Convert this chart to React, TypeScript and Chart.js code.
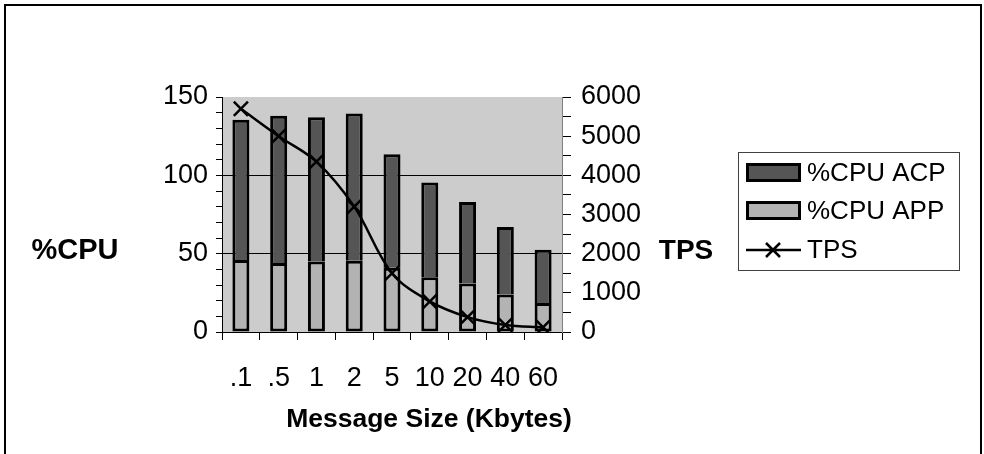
import React, { useEffect, useRef } from 'react';
import { Chart, registerables } from 'chart.js';

Chart.register(...registerables);

const categories = ['.1', '.5', '1', '2', '5', '10', '20', '40', '60'];
const cpuApp = [46, 44, 45, 45.5, 41, 35, 31, 24, 18.5];
const cpuAcp = [89.5, 94, 92, 94, 72.5, 60.5, 52, 43, 34];
const tps = [5700, 5000, 4350, 3200, 1500, 780, 380, 180, 120];

const cpuMax = 150;
const cpuStep = 10;
const cpuLabelStep = 50;
const tpsMax = 6000;
const tpsStep = 500;
const tpsLabelStep = 1000;

const FONT = "'Liberation Sans', Arial, sans-serif";

const decor = {
  id: 'decor',
  beforeDraw(chart: any) {
    const { ctx, chartArea } = chart;
    ctx.save();
    ctx.fillStyle = '#ffffff';
    ctx.fillRect(0, 0, chart.width, chart.height);
    ctx.fillStyle = '#cccccc';
    ctx.fillRect(chartArea.left, chartArea.top, chartArea.right - chartArea.left, chartArea.bottom - chartArea.top);
    ctx.restore();
  },
  afterDraw(chart: any) {
    const { ctx } = chart;
    ctx.save();
    // outer frame
    ctx.strokeStyle = '#000';
    ctx.lineWidth = 2;
    ctx.strokeRect(5, 5, 976, 470);

    // axis titles
    ctx.fillStyle = '#000';
    ctx.textBaseline = 'middle';
    ctx.textAlign = 'center';
    ctx.font = `bold 29px ${FONT}`;
    ctx.fillText('%CPU', 75, 251);
    ctx.font = `bold 28px ${FONT}`;
    ctx.fillText('TPS', 686, 251);
    ctx.font = `bold 26.5px ${FONT}`;
    ctx.fillText('Message Size (Kbytes)', 429, 420);

    // legend
    ctx.strokeStyle = '#404040';
    ctx.lineWidth = 1;
    ctx.strokeRect(738.5, 152.5, 221, 118);
    const ds = chart.data.datasets;
    const items = [ds[1], ds[0], ds[2]];
    const ys = [173, 211, 250];
    ctx.font = `26px ${FONT}`;
    ctx.textAlign = 'left';
    items.forEach((d: any, i: number) => {
      const y = ys[i];
      if (d.type === 'line') {
        ctx.strokeStyle = d.borderColor;
        ctx.lineWidth = 2.5;
        ctx.beginPath();
        ctx.moveTo(746, y);
        ctx.lineTo(801, y);
        const r = 7;
        ctx.moveTo(773 - r, y - r);
        ctx.lineTo(773 + r, y + r);
        ctx.moveTo(773 - r, y + r);
        ctx.lineTo(773 + r, y - r);
        ctx.stroke();
      } else {
        ctx.fillStyle = d.backgroundColor;
        ctx.fillRect(746, y - 10, 55, 19);
        ctx.strokeStyle = '#000';
        ctx.lineWidth = 3;
        ctx.strokeRect(747.5, y - 8.5, 52, 16);
      }
      ctx.fillStyle = '#000';
      ctx.fillText(d.label, 807, y + 1);
    });
    ctx.restore();
  },
};

export default function App() {
  const ref = useRef<HTMLCanvasElement>(null);
  useEffect(() => {
    document.body.style.margin = '0';
    const tickFont = { family: FONT, size: 27 };
    const chart = new Chart(ref.current as HTMLCanvasElement, {
      type: 'bar',
      data: {
        labels: categories,
        datasets: [
          {
            type: 'bar',
            label: '%CPU APP',
            data: cpuApp,
            backgroundColor: '#b3b3b3',
            borderColor: '#000',
            borderWidth: 3,
            borderSkipped: false,
            yAxisID: 'y',
            order: 2,
            barPercentage: 0.45,
            categoryPercentage: 1,
          },
          {
            type: 'bar',
            label: '%CPU ACP',
            data: cpuAcp,
            backgroundColor: '#555555',
            borderColor: '#000',
            borderWidth: 3,
            borderSkipped: 'start',
            yAxisID: 'y',
            order: 2,
            barPercentage: 0.45,
            categoryPercentage: 1,
          },
          {
            type: 'line',
            label: 'TPS',
            data: tps,
            borderColor: '#000',
            backgroundColor: '#000',
            borderWidth: 2.5,
            tension: 0.35,
            pointStyle: 'crossRot',
            pointRadius: 10,
            pointBorderWidth: 2.5,
            pointBorderColor: '#000',
            yAxisID: 'y1',
            order: 0,
          },
        ] as any,
      },
      options: {
        responsive: false,
        animation: false,
        layout: { padding: { top: 97, left: 0, right: 0, bottom: 0 } },
        plugins: { legend: { display: false }, tooltip: { enabled: false } },
        scales: {
          x: {
            stacked: true,
            offset: true,
            grid: { display: true, drawOnChartArea: false, drawTicks: true, tickLength: 8, color: '#000', offset: true },
            border: { display: true, color: '#000', width: 1 },
            ticks: { color: '#000', font: tickFont, padding: 22, autoSkip: false, maxRotation: 0, minRotation: 0 },
            afterFit: (s: any) => { s.height = 122; },
          },
          y: {
            stacked: true,
            position: 'left',
            min: 0,
            max: cpuMax,
            grid: {
              drawOnChartArea: true,
              tickLength: 6,
              tickColor: '#000',
              color: (c: any) => (c.tick && c.tick.value > 0 && c.tick.value < cpuMax && c.tick.value % cpuLabelStep === 0 ? '#000' : 'rgba(0,0,0,0)'),
            },
            border: { display: true, color: '#000', width: 1 },
            ticks: {
              stepSize: cpuStep,
              autoSkip: false,
              color: '#000',
              font: tickFont,
              padding: 8,
              callback: (v: any) => (Number(v) % cpuLabelStep === 0 ? String(v) : ''),
            },
            afterFit: (s: any) => { s.width = 222; },
          },
          y1: {
            position: 'right',
            min: 0,
            max: tpsMax,
            grid: { drawOnChartArea: false, tickLength: 9, tickColor: '#000', color: '#000' },
            border: { display: true, color: '#808080', width: 1 },
            ticks: {
              stepSize: tpsStep,
              autoSkip: false,
              color: '#000',
              font: tickFont,
              padding: 10,
              callback: (v: any) => (Number(v) % tpsLabelStep === 0 ? String(v) : ''),
            },
            afterFit: (s: any) => { s.width = 422; },
          },
        },
      } as any,
      plugins: [decor],
    });
    return () => chart.destroy();
  }, []);
  return <canvas ref={ref} width={984} height={454} style={{ display: 'block' }} />;
}
